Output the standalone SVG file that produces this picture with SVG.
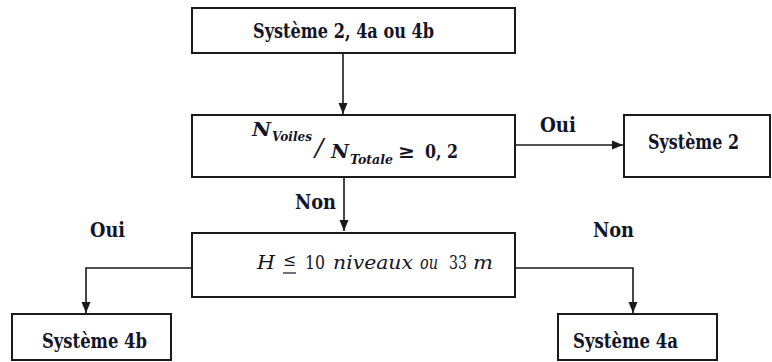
<svg xmlns="http://www.w3.org/2000/svg" width="772" height="362" viewBox="0 0 772 362">
<style>
.box{fill:#fff;stroke:#1a1a1a;stroke-width:2}
.lbl{font-family:'DejaVu Serif',serif;font-weight:bold;font-size:20px;fill:#141428}
.math{font-family:'DejaVu Serif',serif;font-style:italic;fill:#141428}
.up{font-style:normal}
.conn{fill:none;stroke:#1a1a1a;stroke-width:1.6}
</style>
<defs>
<marker id="arr" markerUnits="userSpaceOnUse" markerWidth="12" markerHeight="12" viewBox="0 0 12 12" refX="11" refY="6" orient="auto">
<path d="M0,1.5 L11,6 L0,10.5 Z" fill="#1a1a1a"/>
</marker>
</defs>
<rect width="772" height="362" fill="#fff"/>
<g id="connectors">
<line class="conn" x1="343" y1="53" x2="343" y2="114" marker-end="url(#arr)"/>
<line class="conn" x1="516" y1="145" x2="623" y2="145" marker-end="url(#arr)"/>
<line class="conn" x1="344" y1="177" x2="344" y2="231" marker-end="url(#arr)"/>
<polyline class="conn" points="192,268 86,268 86,313" marker-end="url(#arr)"/>
<polyline class="conn" points="515,268 633,268 633,313" marker-end="url(#arr)"/>
<text class="lbl" x="540" y="132" textLength="36" lengthAdjust="spacingAndGlyphs">Oui</text>
<text class="lbl" x="295" y="209" textLength="41" lengthAdjust="spacingAndGlyphs">Non</text>
<text class="lbl" x="90" y="237" textLength="35" lengthAdjust="spacingAndGlyphs">Oui</text>
<text class="lbl" x="593" y="237" textLength="41" lengthAdjust="spacingAndGlyphs">Non</text>
</g>
<g id="n1">
<rect class="box" x="192" y="8" width="323" height="45"/>
<text class="lbl" x="253" y="38" textLength="181" lengthAdjust="spacingAndGlyphs">Système 2, 4a ou 4b</text>
</g>
<g id="n2">
<rect class="box" x="192" y="115" width="323" height="62"/>
<text class="math" font-weight="bold"><tspan x="252" y="136" font-size="18" textLength="19" lengthAdjust="spacingAndGlyphs">N</tspan><tspan x="272" y="141" font-size="13" textLength="40" lengthAdjust="spacingAndGlyphs">Voiles</tspan></text>
<text class="math" x="315" y="156" font-size="25" font-style="normal" font-weight="normal">/</text>
<text class="math" font-weight="bold"><tspan x="331" y="158" font-size="18" textLength="18" lengthAdjust="spacingAndGlyphs">N</tspan><tspan x="350" y="164" font-size="13" textLength="43" lengthAdjust="spacingAndGlyphs">Totale</tspan><tspan class="up" x="398" y="158" font-size="19" textLength="17" lengthAdjust="spacingAndGlyphs">≥</tspan><tspan class="up" x="425" y="158" font-size="19" textLength="33" lengthAdjust="spacingAndGlyphs">0, 2</tspan></text>
</g>
<g id="n3">
<rect class="box" x="624" y="115" width="146" height="62"/>
<text class="lbl" x="648" y="149" textLength="91" lengthAdjust="spacingAndGlyphs">Système 2</text>
</g>
<g id="n4">
<rect class="box" x="192" y="233" width="323" height="64"/>
<text class="math" font-size="19"><tspan x="257" y="269" textLength="18" lengthAdjust="spacingAndGlyphs">H</tspan><tspan class="up" x="283" y="266" font-size="17" textLength="13" lengthAdjust="spacingAndGlyphs">≤</tspan><tspan class="up" x="305" y="269" textLength="20" lengthAdjust="spacingAndGlyphs">10</tspan><tspan x="333" y="269" textLength="80" lengthAdjust="spacingAndGlyphs">niveaux</tspan><tspan x="420" y="269" textLength="18" lengthAdjust="spacingAndGlyphs">ou</tspan><tspan class="up" x="449" y="269" textLength="18" lengthAdjust="spacingAndGlyphs">33</tspan></text>
<text class="math" x="473" y="269" font-size="19" textLength="20" lengthAdjust="spacingAndGlyphs">m</text>
<line x1="283" y1="273" x2="296" y2="273" stroke="#141428" stroke-width="1.2"/>
</g>
<g id="n5">
<rect class="box" x="12" y="314" width="159" height="46"/>
<text class="lbl" x="42" y="348" textLength="105" lengthAdjust="spacingAndGlyphs">Système 4b</text>
</g>
<g id="n6">
<rect class="box" x="558" y="314" width="159" height="46"/>
<text class="lbl" x="573" y="348" textLength="105" lengthAdjust="spacingAndGlyphs">Système 4a</text>
</g>
</svg>
